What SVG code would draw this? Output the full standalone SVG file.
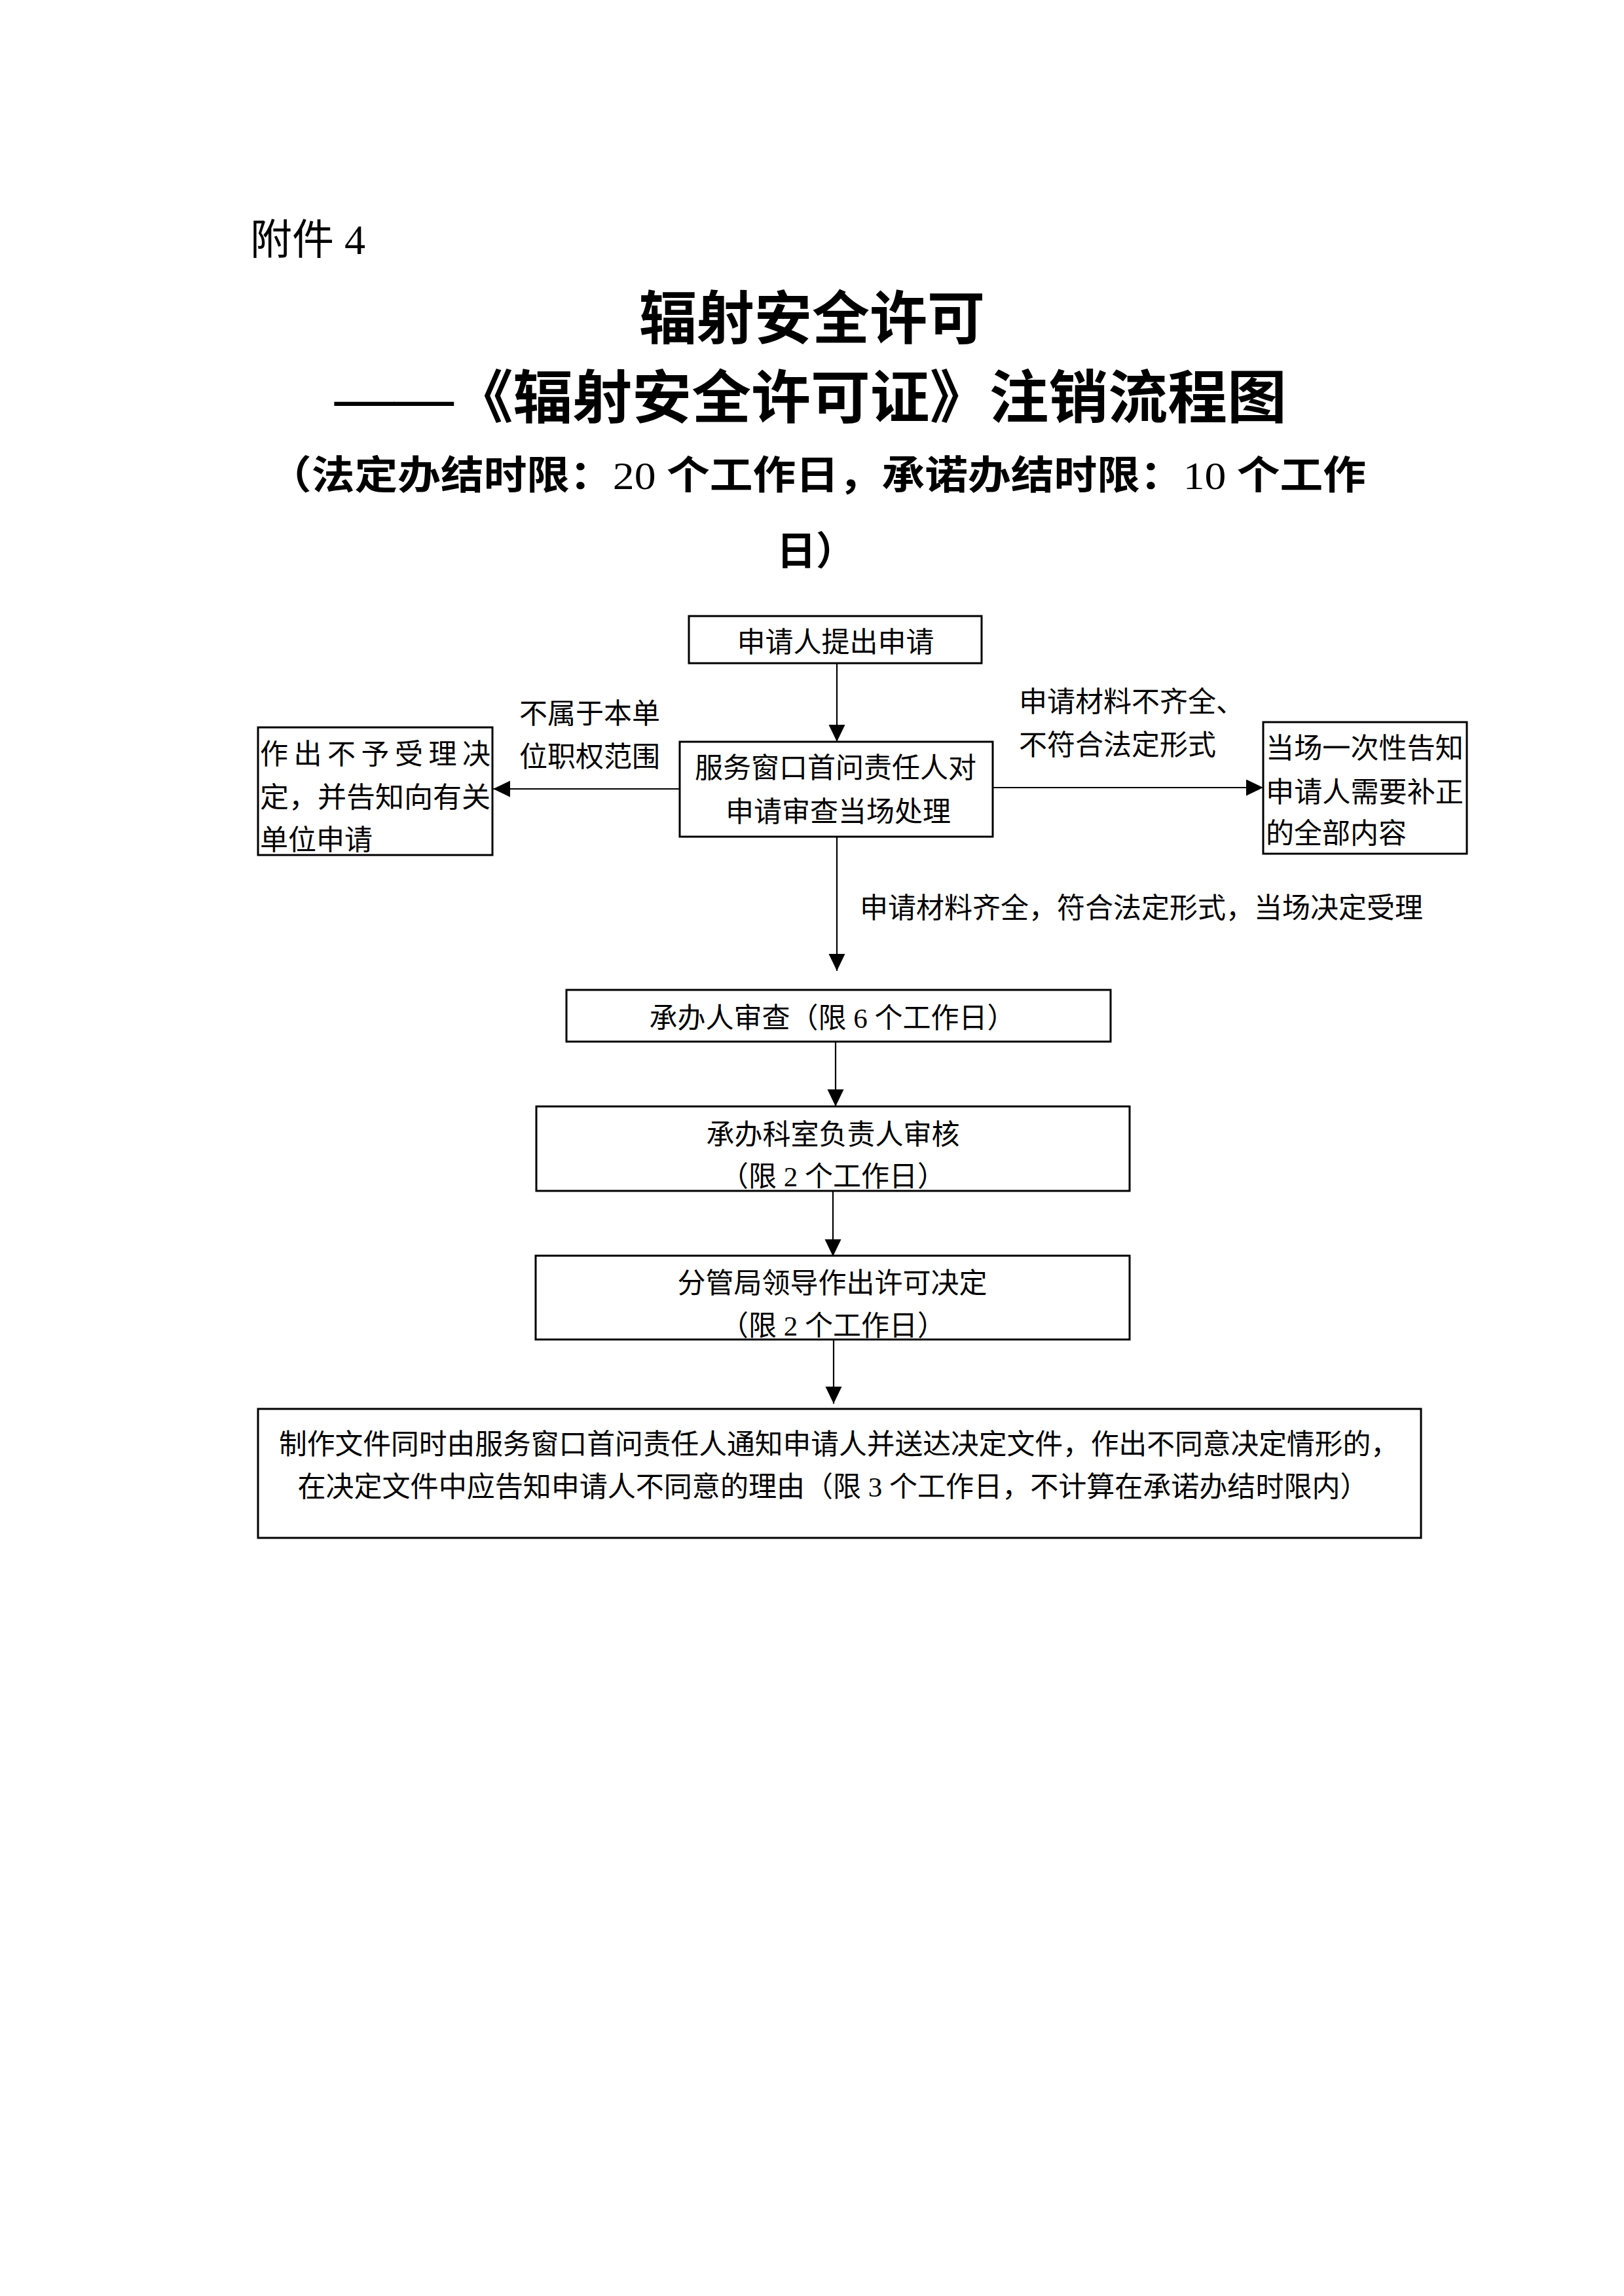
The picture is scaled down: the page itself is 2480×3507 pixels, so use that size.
<svg xmlns="http://www.w3.org/2000/svg" width="2480" height="3507" viewBox="0 0 2480 3507">
<style>
.bg{fill:#fff}
.box{fill:#fff;stroke:#000;stroke-width:3}
.t{font-family:"Liberation Serif","Noto Sans CJK SC",serif;font-size:43px;fill:#000;dominant-baseline:central}
.c{text-anchor:middle}
.h{font-family:"Liberation Serif","Noto Sans CJK SC",sans-serif;fill:#000;dominant-baseline:central}
.d{font-weight:normal}
.conn{stroke:#000;stroke-width:2.2;fill:none}
</style>
<defs>
<marker id="arr" markerUnits="userSpaceOnUse" markerWidth="28" markerHeight="26" refX="26" refY="12.5" orient="auto">
<path d="M0,0 L26,12.5 L0,25 z" fill="#000"/>
</marker>
</defs>
<rect class="bg" x="0" y="0" width="2480" height="3507"/>

<g id="header">
<text class="h" x="382" y="366" font-size="64">附件 4</text>
<text class="h c" x="1240" y="487" font-size="88" font-weight="bold" text-anchor="middle">辐射安全许可</text>
<text class="h" x="511" y="608" font-size="88" font-weight="bold" textLength="1454" lengthAdjust="spacingAndGlyphs">——《辐射安全许可证》注销流程图</text>
<text class="h" x="410" y="727" font-size="60" font-weight="bold" textLength="1676" lengthAdjust="spacingAndGlyphs">（法定办结时限：<tspan class="d">20</tspan> 个工作日，承诺办结时限：<tspan class="d">10</tspan> 个工作</text>
<text class="h" x="1186" y="843" font-size="60" font-weight="bold">日）</text>
</g>

<g id="connectors">
<line class="conn" x1="1278" y1="1013" x2="1278" y2="1133" marker-end="url(#arr)"/>
<line class="conn" x1="1037" y1="1205" x2="753" y2="1205" marker-end="url(#arr)"/>
<line class="conn" x1="1516" y1="1203" x2="1929" y2="1203" marker-end="url(#arr)"/>
<line class="conn" x1="1278" y1="1278" x2="1278" y2="1483" marker-end="url(#arr)"/>
<line class="conn" x1="1276" y1="1592" x2="1276" y2="1690" marker-end="url(#arr)"/>
<line class="conn" x1="1272" y1="1819" x2="1272" y2="1919" marker-end="url(#arr)"/>
<line class="conn" x1="1273" y1="2047" x2="1273" y2="2144" marker-end="url(#arr)"/>
<text class="t" x="793" y="1090">不属于本单</text>
<text class="t" x="793" y="1156">位职权范围</text>
<text class="t" x="1556" y="1072">申请材料不齐全、</text>
<text class="t" x="1556" y="1138">不符合法定形式</text>
<text class="t" x="1313" y="1387">申请材料齐全，符合法定形式，当场决定受理</text>
</g>

<g id="n1">
<rect class="box" x="1052" y="941" width="447" height="72"/>
<text class="t c" x="1276" y="981">申请人提出申请</text>
</g>

<g id="n2">
<rect class="box" x="1038" y="1133" width="478" height="145"/>
<text class="t c" x="1276" y="1173">服务窗口首问责任人对</text>
<text class="t c" x="1280" y="1240">申请审查当场处理</text>
</g>

<g id="n3">
<rect class="box" x="394" y="1111" width="358" height="195"/>
<text class="t" x="397" y="1152" textLength="352" lengthAdjust="spacing">作出不予受理决</text>
<text class="t" x="397" y="1218" textLength="352" lengthAdjust="spacingAndGlyphs">定，并告知向有关</text>
<text class="t" x="397" y="1283">单位申请</text>
</g>

<g id="n4">
<rect class="box" x="1929" y="1103" width="311" height="201"/>
<text class="t" x="1933" y="1143" textLength="302" lengthAdjust="spacingAndGlyphs">当场一次性告知</text>
<text class="t" x="1933" y="1210" textLength="302" lengthAdjust="spacingAndGlyphs">申请人需要补正</text>
<text class="t" x="1933" y="1273">的全部内容</text>
</g>

<g id="n5">
<rect class="box" x="865" y="1512" width="831" height="79"/>
<text class="t c" x="1271" y="1555">承办人审查（限 6 个工作日）</text>
</g>

<g id="n6">
<rect class="box" x="819" y="1690" width="906" height="129"/>
<text class="t c" x="1272" y="1733">承办科室负责人审核</text>
<text class="t c" x="1272" y="1797">（限 2 个工作日）</text>
</g>

<g id="n7">
<rect class="box" x="818" y="1918" width="907" height="128"/>
<text class="t c" x="1271" y="1960">分管局领导作出许可决定</text>
<text class="t c" x="1272" y="2025">（限 2 个工作日）</text>
</g>

<g id="n8">
<rect class="box" x="394" y="2152" width="1776" height="197"/>
<text class="t c" x="1281" y="2206" textLength="1710" lengthAdjust="spacingAndGlyphs">制作文件同时由服务窗口首问责任人通知申请人并送达决定文件，作出不同意决定情形的，</text>
<text class="t c" x="1272" y="2271" textLength="1635" lengthAdjust="spacingAndGlyphs">在决定文件中应告知申请人不同意的理由（限 3 个工作日，不计算在承诺办结时限内）</text>
</g>
</svg>
